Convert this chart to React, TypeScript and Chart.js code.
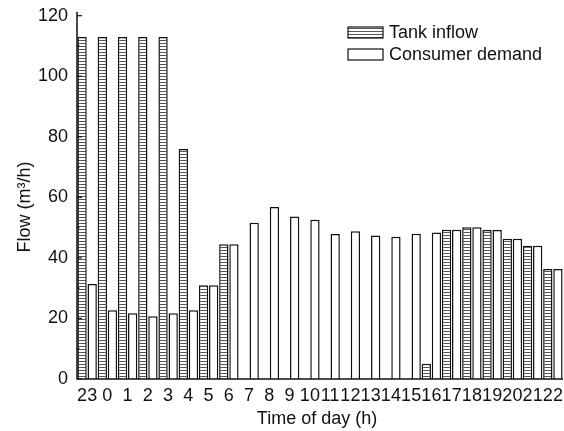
import React, { useEffect, useRef } from 'react';
import { Chart, registerables } from 'chart.js';

Chart.register(...registerables);

const hours = ['23', '0', '1', '2', '3', '4', '5', '6', '7', '8', '9', '10', '11', '12', '13', '14', '15', '16', '17', '18', '19', '20', '21', '22'];
const tankInflow = [113, 113, 113, 113, 113, 76, 31, 44.5, null, null, null, null, null, null, null, null, null, 5, 49.3, 50.1, 49.2, 46.3, 44, 36.3];
const consumerDemand = [31.4, 22.7, 21.7, 20.7, 21.7, 22.7, 31, 44.5, 51.6, 56.8, 53.7, 52.6, 47.9, 48.8, 47.4, 47, 48, 48.4, 49.3, 50.1, 49.2, 46.3, 44, 36.3];
const seriesNames = ['Tank inflow', 'Consumer demand'];
const yTickValues = [0, 20, 40, 60, 80, 100, 120];
const yTitle = 'Flow (m³/h)';
const xTitle = 'Time of day (h)';

const FONT = 'Liberation Sans, Arial, sans-serif';
const FS = 18;

function makeHatch(): CanvasPattern | string {
  const c = document.createElement('canvas');
  c.width = 8;
  c.height = 3;
  const g = c.getContext('2d');
  if (!g) return '#fff';
  g.fillStyle = '#ffffff';
  g.fillRect(0, 0, 8, 3);
  g.fillStyle = '#555555';
  g.fillRect(0, 1, 8, 1);
  return g.createPattern(c, 'repeat') || '#fff';
}

const decorPlugin = {
  id: 'decor',
  afterDatasetsDraw(chart: any) {
    const ctx = chart.ctx as CanvasRenderingContext2D;
    const { left, right, bottom, top } = chart.chartArea;
    const y = chart.scales.y;
    ctx.save();
    // axis lines
    ctx.strokeStyle = '#111';
    ctx.lineWidth = 1.5;
    ctx.beginPath();
    ctx.moveTo(left, top - 4);
    ctx.lineTo(left, bottom);
    ctx.lineTo(right, bottom);
    ctx.stroke();
    // inward ticks
    ctx.lineWidth = 1.2;
    for (let v = 0; v <= 120; v += 10) {
      const py = y.getPixelForValue(v);
      const len = v % 20 === 0 ? 5 : 2.5;
      ctx.beginPath();
      ctx.moveTo(left, py);
      ctx.lineTo(left + len, py);
      ctx.stroke();
    }
    // legend
    const ds = chart.data.datasets;
    const lx = 348;
    const rows = [27, 49];
    ctx.font = `${FS}px ${FONT}`;
    ctx.textBaseline = 'middle';
    ctx.textAlign = 'left';
    ds.forEach((d: any, i: number) => {
      ctx.fillStyle = d.backgroundColor;
      ctx.fillRect(lx, rows[i], 35, 11);
      ctx.strokeStyle = '#111';
      ctx.lineWidth = 1.2;
      ctx.strokeRect(lx, rows[i], 35, 11);
      ctx.fillStyle = '#111';
      ctx.fillText(d.label, lx + 41, rows[i] + 6);
    });
    // axis titles
    ctx.textAlign = 'center';
    ctx.textBaseline = 'alphabetic';
    ctx.fillText(xTitle, (left + right) / 2 - 3, 424);
    ctx.translate(30, 207);
    ctx.rotate(-Math.PI / 2);
    ctx.fillText(yTitle, 0, 0);
    ctx.restore();
  },
};

export default function App() {
  const ref = useRef<HTMLCanvasElement | null>(null);
  useEffect(() => {
    document.body.style.margin = '0';
    const canvas = ref.current;
    if (!canvas) return;
    const hatch = makeHatch();
    const chart = new Chart(canvas, {
      type: 'bar',
      data: {
        labels: hours,
        datasets: [
          {
            label: seriesNames[0],
            data: tankInflow,
            backgroundColor: hatch as any,
            borderColor: '#111',
            borderWidth: 1.5,
            barPercentage: 0.92,
            categoryPercentage: 1,
          },
          {
            label: seriesNames[1],
            data: consumerDemand,
            backgroundColor: '#ffffff',
            borderColor: '#111',
            borderWidth: 1.5,
            barPercentage: 0.92,
            categoryPercentage: 1,
          },
        ],
      },
      options: {
        responsive: false,
        animation: false,
        devicePixelRatio: 1,
        layout: { padding: { top: 15.7, right: 1, left: 0, bottom: 0 } },
        plugins: {
          legend: { display: false },
          tooltip: { enabled: false },
        },
        scales: {
          x: {
            grid: { display: false, drawTicks: false },
            border: { display: false },
            ticks: {
              autoSkip: false,
              maxRotation: 0,
              minRotation: 0,
              padding: 6,
              color: '#111',
              font: { family: FONT, size: FS },
            },
            afterFit(scale: any) {
              scale.height = 52;
              scale.paddingLeft = 0;
              scale.paddingRight = 0;
            },
          },
          y: {
            min: 0,
            max: 120,
            grid: { display: false, drawTicks: false },
            border: { display: false },
            afterBuildTicks(scale: any) {
              scale.ticks = yTickValues.map((v) => ({ value: v }));
            },
            ticks: {
              padding: 9,
              color: '#111',
              font: { family: FONT, size: FS },
            },
            afterFit(scale: any) {
              scale.width = 77;
              scale.paddingTop = 0;
              scale.paddingBottom = 0;
            },
          },
        },
      },
      plugins: [decorPlugin],
    });
    return () => chart.destroy();
  }, []);
  return (
    <div style={{ width: 564, height: 431 }}>
      <canvas ref={ref} width={564} height={431} style={{ display: 'block' }} />
    </div>
  );
}
